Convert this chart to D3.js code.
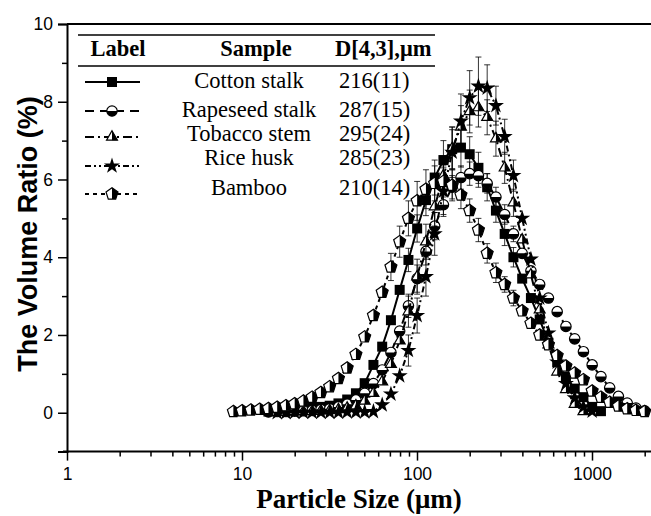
<!DOCTYPE html>
<html><head><meta charset="utf-8">
<script src="https://cdn.jsdelivr.net/npm/d3@7"></script>
<style>body{margin:0;background:#fff}</style>
</head><body>
<svg id="c" width="651" height="516"></svg>
<script>
// particle size bins (µm)
const sizes = [8.93,10.02,11.25,12.62,14.16,15.89,17.83,20.00,22.44,25.18,28.25,31.70,35.57,39.91,44.77,50.24,56.37,63.25,70.96,79.62,89.34,100.2,112.5,126.2,141.6,158.9,178.3,200.0,224.4,251.8,282.5,317.0,355.7,399.1,447.7,502.4,563.7,632.5,709.6,796.2,893.4,1002,1125,1262,1416,1589,1783,2000];
const N = null;
const cotton   = [N,N,N,N,0.03,0.05,0.07,0.09,0.11,0.13,0.15,0.18,0.24,0.34,0.5,0.76,1.23,1.7,2.38,3.16,3.93,4.74,5.47,6.05,6.5,6.78,6.82,6.65,6.3,5.8,5.2,4.6,4.0,3.45,2.95,2.4,1.8,1.3,0.92,0.62,0.4,0.15,0.04,N,N,N,N,N];
const rapeseed = [N,N,N,N,0.02,0.03,0.03,0.04,0.05,0.06,0.08,0.1,0.15,0.22,0.33,0.5,0.75,1.1,1.55,2.1,2.75,3.45,4.15,4.8,5.35,5.8,6.05,6.15,6.1,5.9,5.55,5.1,4.6,4.1,3.65,3.3,2.95,2.6,2.22,1.9,1.57,1.23,0.93,0.64,0.42,0.25,0.12,0.05];
const tobacco  = [N,N,N,N,N,0.02,0.02,0.03,0.03,0.04,0.05,0.06,0.08,0.12,0.18,0.3,0.5,0.8,1.25,1.85,2.6,3.5,4.4,5.3,6.1,6.8,7.35,7.75,7.85,7.6,7.05,6.3,5.4,4.45,3.55,2.65,1.75,1.05,0.6,0.22,0.03,N,N,N,N,N,N,N];
const rice     = [N,N,N,N,N,0.0,0.0,0.01,0.01,0.01,0.01,0.01,0.01,0.02,0.02,0.02,0.03,0.2,0.48,0.95,1.6,2.5,3.5,4.6,5.7,6.7,7.5,8.1,8.4,8.35,7.9,7.1,6.1,5.0,3.95,2.95,2.05,1.3,0.75,0.38,0.15,0.04,N,N,N,N,N,N];
const bamboo   = [0.03,0.05,0.07,0.09,0.11,0.14,0.18,0.23,0.3,0.4,0.52,0.67,0.88,1.15,1.5,1.95,2.5,3.1,3.75,4.4,5.0,5.45,5.75,5.9,5.95,5.85,5.6,5.2,4.7,4.1,3.6,3.3,2.95,2.62,2.3,2.0,1.75,1.47,1.2,1.02,0.85,0.56,0.4,0.27,0.17,0.1,0.06,0.03];
// error bar half-heights (% points)
const cottonErr   = [N,N,N,N,N,N,N,N,N,N,N,N,N,N,N,N,N,N,N,N,0.3,0.35,0.4,0.45,0.5,0.5,0.5,0.45,0.4,0.35,0.3,0.3,0.25,N,N,N,N,N,N,N,N,N,N,N,N,N,N,N];
const rapeseedErr = [N,N,N,N,N,N,N,N,N,N,N,N,N,N,N,N,N,N,N,N,0.3,0.35,0.35,0.35,0.3,0.3,0.3,0.3,0.3,0.25,0.25,0.25,0.2,N,N,N,N,N,N,N,N,N,N,N,N,N,N,N];
const tobaccoErr  = [N,N,N,N,N,N,N,N,N,N,N,N,N,N,N,N,N,N,N,N,0.4,0.45,0.45,0.5,0.5,0.55,0.55,0.55,0.5,0.45,0.45,0.4,0.35,N,N,N,N,N,N,N,N,N,N,N,N,N,N,N];
const riceErr     = [N,N,N,N,N,N,N,N,N,N,N,N,N,N,N,N,N,N,N,N,0.4,0.45,0.5,0.55,0.6,0.65,0.7,0.7,0.75,0.6,0.5,0.45,0.4,N,N,N,N,N,N,N,N,N,N,N,N,N,N,N];
const bambooErr   = [N,N,N,N,N,N,N,N,N,N,N,N,N,N,N,N,N,N,0.35,0.4,0.45,0.5,0.5,0.45,0.4,0.4,0.35,0.3,0.3,0.25,0.25,0.2,0.2,N,N,N,N,N,N,N,N,N,N,N,N,N,N,N];

const sampleNames = ["Cotton stalk","Rapeseed stalk","Tobacco stem","Rice husk","Bamboo"];
const d43Labels = ["216(11)","287(15)","295(24)","285(23)","210(14)"];
const xTicks = [1,10,100,1000];
const yTicks = [0,2,4,6,8,10];

const svg = d3.select("#c");
const x = d3.scaleLog().domain([1, 3000]).range([67, 67 + 175 * Math.log10(3000)]);
const y = d3.scaleLinear().domain([-1, 10]).range([451.6, 24]);

const series = [
  {vals: cotton,   err: cottonErr,   marker: "square",   dash: null},
  {vals: rapeseed, err: rapeseedErr, marker: "circle",   dash: "9,6"},
  {vals: tobacco,  err: tobaccoErr,  marker: "triangle", dash: "9,4,2,4"},
  {vals: rice,     err: riceErr,     marker: "star",     dash: "6,3,2,3,2,3"},
  {vals: bamboo,   err: bambooErr,   marker: "pentagon", dash: "4,4"}
];

function drawMarker(g, type, cx, cy) {
  const m = g.append("g").attr("transform", `translate(${cx},${cy})`);
  if (type === "square") {
    m.append("rect").attr("x",-5).attr("y",-5).attr("width",10).attr("height",10).attr("fill","#000");
  } else if (type === "circle") {
    const r = 5.2;
    m.append("circle").attr("r", r).attr("fill","#fff").attr("stroke","#000").attr("stroke-width",1.2);
    m.append("path").attr("d", `M${-r},0 A${r},${r} 0 0 0 ${r},0 Z`).attr("fill","#000");
  } else if (type === "triangle") {
    const r = 6.3;
    const p = [[0,-r],[r*0.866,r*0.5],[-r*0.866,r*0.5]];
    m.append("path").attr("d", "M"+p.join("L")+"Z").attr("fill","#fff").attr("stroke","#000").attr("stroke-width",1.2);
    m.append("path").attr("d", `M0,${-r}L${r*0.866},${r*0.5}L0,${r*0.5}Z`).attr("fill","#000");
  } else if (type === "star") {
    m.append("path").attr("d", d3.symbol(d3.symbolStar, 80)()).attr("fill","#000");
  } else if (type === "pentagon") {
    const r = 6.3;
    const pts = d3.range(5).map(k => { const a = (-90 + k*72) * Math.PI/180; return [r*Math.cos(a), r*Math.sin(a)]; });
    m.append("path").attr("d", "M"+pts.join("L")+"Z").attr("fill","#fff").attr("stroke","#000").attr("stroke-width",1.2);
    m.append("path").attr("d", `M${pts[0]}L${pts[1]}L${pts[2]}L0,${pts[2][1]}Z`).attr("fill","#000");
  }
}

// axes frame
svg.append("line").attr("x1",67).attr("x2",651).attr("y1",24).attr("y2",24).attr("stroke","#000").attr("stroke-width",2);

const yAxis = d3.axisLeft(y).tickValues(yTicks).tickSize(9).tickPadding(5).tickFormat(d3.format("d"));
const gy = svg.append("g").attr("transform","translate(67,0)").call(yAxis);
gy.select(".domain").attr("stroke-width",2);
gy.selectAll(".tick line").attr("stroke-width",1.5);
gy.selectAll("text").attr("font-family","Liberation Sans, Arial, sans-serif").attr("font-size",17.5).attr("fill","#000");
const yMinor = d3.axisLeft(y).tickValues([-1,1,3,5,7,9]).tickSize(5).tickFormat("");
const gym = svg.append("g").attr("transform","translate(67,0)").call(yMinor);
gym.select(".domain").remove();
gym.selectAll(".tick line").attr("stroke-width",1.5);

const xAxis = d3.axisBottom(x).tickValues(xTicks).tickSize(9).tickPadding(7).tickFormat(d3.format("d"));
const gx = svg.append("g").attr("transform","translate(0,451.6)").call(xAxis);
gx.select(".domain").attr("d","M63,0H651").attr("stroke-width",2);
gx.selectAll(".tick line").attr("stroke-width",1.5);
gx.selectAll("text").attr("font-family","Liberation Sans, Arial, sans-serif").attr("font-size",17.5).attr("fill","#000");
const minorX = [];
[1,10,100,1000].forEach(d => { for (let k = 2; k <= 9; k++) if (d*k < 3000) minorX.push(d*k); });
const xMinor = d3.axisBottom(x).tickValues(minorX).tickSize(5).tickFormat("");
const gxm = svg.append("g").attr("transform","translate(0,451.6)").call(xMinor);
gxm.select(".domain").remove();
gxm.selectAll(".tick line").attr("stroke-width",1.5);

// axis titles
svg.append("text").attr("transform","translate(37,234) rotate(-90)").attr("text-anchor","middle")
  .attr("font-family","Liberation Sans, Arial, sans-serif").attr("font-weight","bold").attr("font-size",27)
  .text("The Volume Ratio (%)");
svg.append("text").attr("x",359).attr("y",508).attr("text-anchor","middle")
  .attr("font-family","Liberation Serif, Times New Roman, serif").attr("font-weight","bold").attr("font-size",27)
  .text("Particle Size (μm)");

// series
series.forEach(s => {
  const pts = sizes.map((d,i) => ({x: d, y: s.vals[i], e: s.err[i]})).filter(p => p.y !== null);
  const g = svg.append("g");
  g.append("path").datum(pts)
    .attr("d", d3.line().x(p => x(p.x)).y(p => y(p.y)))
    .attr("fill","none").attr("stroke","#000").attr("stroke-width",2)
    .attr("stroke-dasharray", s.dash);
  pts.filter(p => p.e !== null && p.e !== undefined).forEach(p => {
    const cx = x(p.x);
    g.append("line").attr("x1",cx).attr("x2",cx).attr("y1",y(p.y - p.e)).attr("y2",y(p.y + p.e)).attr("stroke","#000").attr("stroke-width",0.8);
    [p.y - p.e, p.y + p.e].forEach(v => g.append("line").attr("x1",cx-3).attr("x2",cx+3).attr("y1",y(v)).attr("y2",y(v)).attr("stroke","#000").attr("stroke-width",0.8));
  });
  pts.forEach(p => drawMarker(g, s.marker, x(p.x), y(p.y)));
});

// legend table
const lg = svg.append("g");
lg.append("line").attr("x1",78).attr("x2",435).attr("y1",35).attr("y2",35).attr("stroke","#000").attr("stroke-width",1.5);
lg.append("line").attr("x1",78).attr("x2",435).attr("y1",66).attr("y2",66).attr("stroke","#000").attr("stroke-width",1.5);
const serif = "Liberation Serif, Times New Roman, serif";
const hdrY = 56;
lg.append("text").attr("x",118).attr("y",hdrY).attr("text-anchor","middle").attr("font-family",serif).attr("font-weight","bold").attr("font-size",22.5).text("Label");
lg.append("text").attr("x",256).attr("y",hdrY).attr("text-anchor","middle").attr("font-family",serif).attr("font-weight","bold").attr("font-size",22.5).text("Sample");
lg.append("text").attr("x",335).attr("y",hdrY).attr("font-family",serif).attr("font-weight","bold").attr("font-size",22.5).text("D[4,3],μm");
const rowBase = [88, 116.5, 140.5, 165, 194.5];
const symY = [82, 111, 137, 166, 194];
series.forEach((s,i) => {
  lg.append("line").attr("x1",85).attr("x2",140).attr("y1",symY[i]).attr("y2",symY[i])
    .attr("stroke","#000").attr("stroke-width",2).attr("stroke-dasharray", s.dash);
  drawMarker(lg, s.marker, 112, symY[i]);
  lg.append("text").attr("x",249).attr("y",rowBase[i]).attr("text-anchor","middle").attr("font-family",serif).attr("font-size",22.5).text(sampleNames[i]);
  lg.append("text").attr("x",339).attr("y",rowBase[i]).attr("font-family",serif).attr("font-size",22.5).text(d43Labels[i]);
});
</script>
</body></html>
